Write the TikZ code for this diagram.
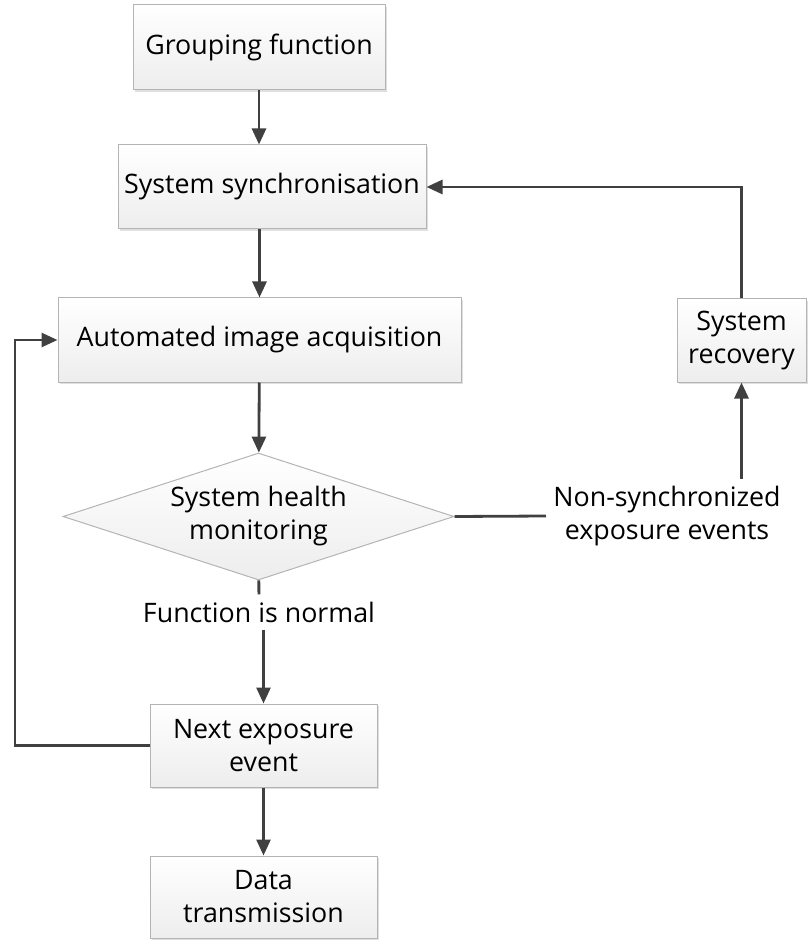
\documentclass[tikz,border=0pt]{standalone}
\usepackage{fontspec}
\setmainfont{Open Sans}
\usepackage{xcolor}
\usepackage{tikz}
\usetikzlibrary{arrows.meta, shapes.geometric, shadows}

\definecolor{linegray}{HTML}{404040}
\definecolor{edgegray}{HTML}{B4B4B4}

\begin{document}
\begin{tikzpicture}[x=0.5pt, y=-0.5pt, line width=1.4pt,
		>={Triangle[length=8pt, width=7pt]},
		box/.style={draw=edgegray, line width=0.5pt, top color=white, bottom color=gray!14,
			inner sep=0pt, align=center, drop shadow={opacity=0.25, shadow xshift=0.8pt, shadow yshift=-0.8pt}},
		test/.style={diamond, draw=edgegray, line width=0.5pt, top color=white, bottom color=gray!14,
			inner sep=0pt, aspect=3.08, minimum width=195.5pt, minimum height=63.5pt, align=center},
		flow/.style={draw=linegray, ->},
		wire/.style={draw=linegray},
		every node/.style={font=\fontsize{13.4}{16.5}\selectfont}]
		\useasboundingbox (0, 0) rectangle (807, 940);

		\node[box, minimum width=126pt, minimum height=42.5pt] (grouping) at (259, 47.5) {Grouping function};
		\node[box, minimum width=154pt, minimum height=42pt] (sync) at (272, 187) {System synchronisation};
		\node[box, minimum width=201.5pt, minimum height=42pt] (acquire) at (259.5, 340) {Automated image acquisition};
		\node[box, minimum width=64.5pt, minimum height=41.5pt] (recovery) at (741.5, 340.5) {System\\recovery};
		\node[test] (health) at (258.5, 516.5) {System health\\monitoring};
		\node[inner sep=3pt, align=center] (nonsync) at (667, 516) {Non-synchronized\\exposure events};
		\node[inner sep=3pt] (normal) at (259, 612) {Function is normal};
		\node[box, minimum width=113.5pt, minimum height=41.5pt] (nextexp) at (263.5, 745.5) {Next exposure\\event};
		\node[box, minimum width=113.5pt, minimum height=41pt] (transmit) at (263.5, 897) {Data\\transmission};
		\coordinate (bend) at (15, 745.5);

		\draw[flow] (grouping) -- (sync.north -| grouping);
		\draw[flow] (sync.south -| acquire) -- (acquire);
		\draw[flow] (acquire) -- (health);
		\draw[wire] (health) -- (normal);
		\draw[flow] (normal.south -| nextexp) -- (nextexp);
		\draw[flow] (nextexp) -- (transmit);
		\draw[flow] (nextexp.west) -- (bend) |- (acquire.west);
		\draw[wire] (health.east) -- (nonsync.west);
		\draw[flow] (nonsync.north -| recovery) -- (recovery);
		\draw[flow] (recovery.north) |- (sync.east);
	\end{tikzpicture}
\end{document}
